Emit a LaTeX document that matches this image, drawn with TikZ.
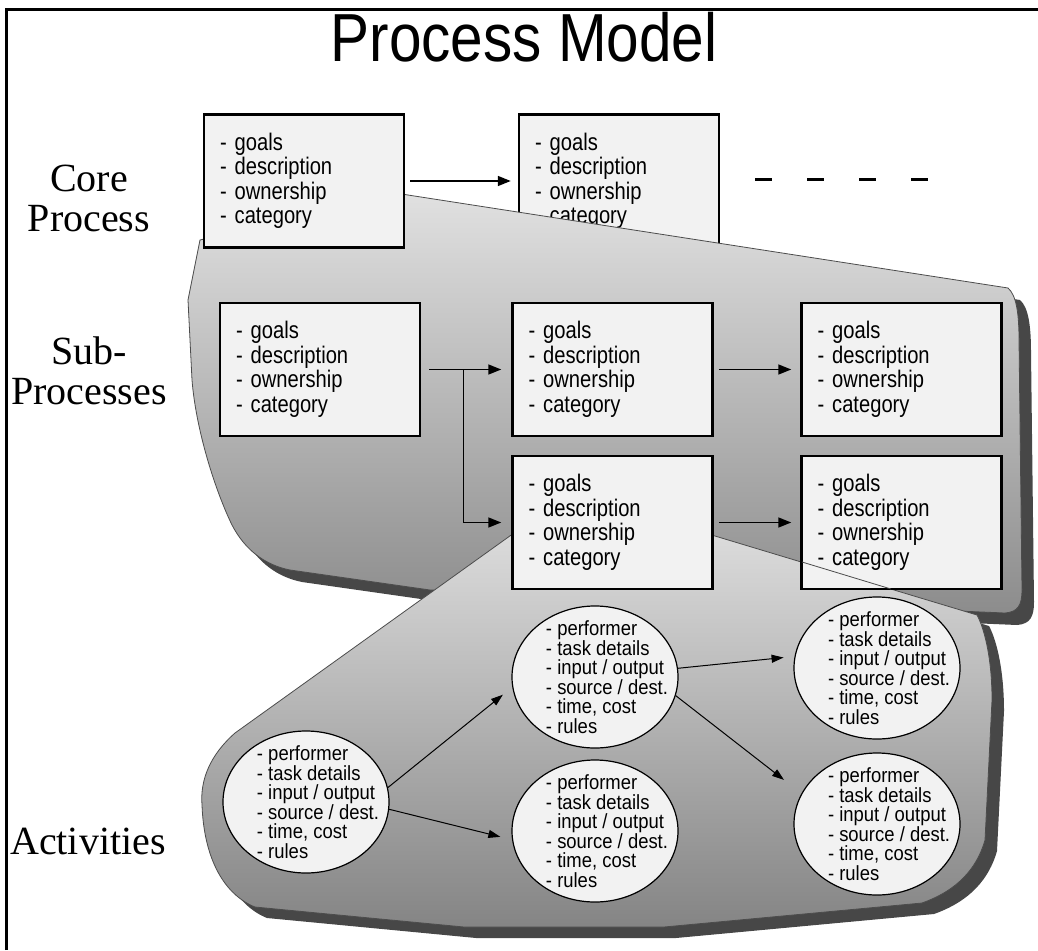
\documentclass[tikz,border=0pt]{standalone}
\usepackage{fontspec}
\setmainfont{Liberation Serif}
\newfontfamily\narrowsans[FakeStretch=0.84]{Liberation Sans}
\newfontfamily\actsans[FakeStretch=0.9]{Liberation Sans}
\newfontfamily\titlesans[FakeStretch=0.86]{Liberation Sans}
\usetikzlibrary{arrows.meta}
\usetikzlibrary{shapes.geometric,calc}

\definecolor{boxfill}{gray}{0.95}

\newcommand{\tightlines}{\lineskiplimit -20pt\relax}
\newcommand{\boxitems}{- goals\\- description\\- ownership\\- category}
\newcommand{\actitems}{- performer\\- task details\\- input / output\\- source / dest.\\- time, cost\\- rules}
% outlines of the two grey backdrops
\newcommand{\subregion}{(395,193) -- (1008,288) .. controls (1016,295) and (1019,312) .. (1019,340) -- (1022,590) .. controls (1022,605) and (1018,612) .. (1005,613) -- (700,600) -- (430,590) -- (290,570) .. controls (265,565) and (245,550) .. (232,525) .. controls (215,490) and (196,430) .. (192,380) -- (188,300) -- (200,240) -- cycle}
\newcommand{\actregion}{(514,533) -- (235,733) .. controls (210,755) and (200,780) .. (202,805) .. controls (204,860) and (225,895) .. (255,907) -- (464,927) -- (664,927) -- (922,903) .. controls (950,893) and (975,875) .. (985,840) -- (992,700) .. controls (992,660) and (985,630) .. (977,615) -- (705,533) -- cycle}

\begin{document}
\begin{tikzpicture}[x=1pt,y=-1pt,
  procbox/.style={draw,line width=2.5pt,fill=boxfill,minimum width=200pt,minimum height=133pt,text width=168pt,inner xsep=16pt,align=left,font=\narrowsans\fontsize{24}{24.5}\selectfont\tightlines},
  actnode/.style={ellipse,draw,line width=1.2pt,fill=boxfill,minimum width=166pt,minimum height=142pt,inner sep=0pt,
    label={[align=left,xshift=12pt,inner sep=0pt,font=\actsans\fontsize{20.5}{19.5}\selectfont\tightlines]center:\actitems}},
  sidelabel/.style={align=center,inner sep=0pt,font=\fontsize{40}{40}\selectfont},
  boxarrow/.style={line width=1.6pt,-{Triangle[length=13pt,width=10pt]}},
  actarrow/.style={line width=1pt,-{Triangle[length=12pt,width=8pt]}},
  backdrop/.style={draw=black!70,line width=0.8pt},
  dropshadow/.style={fill=black!72}]
\useasboundingbox (0,0) rectangle (1038,950);
% slide frame
\draw[line width=3pt] (6,950) -- (6,10) -- (1038,10);

\node (title) at (524,62) [anchor=base,font=\titlesans\fontsize{68}{70}\selectfont] {Process Model};
\node (core) at (89,165) [sidelabel,anchor=north] {Core\\Process};
\node (sub) at (89,337) [sidelabel,anchor=north] {Sub-\\Processes};
\node (act) at (88,854) [sidelabel,anchor=base] {Activities};

% core process
\node (c2) at (619,181) [procbox] {\boxitems};
\fill[dropshadow,shift={(12,12)}] \subregion;
\path[backdrop,top color=black!12,bottom color=black!45] \subregion;
\node (c1) at (304,181) [procbox] {\boxitems};
\draw[line width=3pt,dash pattern=on 17pt off 35pt] ([xshift=35pt,yshift=2pt]c2.east) -- ++(176,0);

% sub-processes
\fill[dropshadow,shift={(12,11)}] \actregion;
\path[backdrop,top color=black!14,bottom color=black!48] \actregion;
\node (s1) at (320,369.5) [procbox] {\boxitems};
\node (s2) at (612.5,369.5) [procbox] {\boxitems};
\node (s3) at (901.5,369.5) [procbox] {\boxitems};
\node (s4) at (612.5,522.5) [procbox] {\boxitems};
\node (s5) at (901.5,522.5) [procbox] {\boxitems};
\draw[black!70,line width=0.8pt] (802,562) -- (891,589);

\coordinate (split) at ($(s1.east)!0.47!(s2.west)$);
\path
(c1) edge[boxarrow,shorten <=5pt,shorten >=7pt] (c2)
(s1) edge[boxarrow,shorten <=8pt,shorten >=10pt] (s2)
(s2) edge[boxarrow,shorten <=5pt,shorten >=9pt] (s3)
(s4) edge[boxarrow,shorten <=5pt,shorten >=9pt] (s5);
\draw[boxarrow,shorten >=10pt] (split) |- (s4.west);

% activities
\node (a1) at (306,802) [actnode] {};
\node (a2) at (595,677) [actnode] {};
\node (a3) at (595,831) [actnode] {};
\node (a4) at (877,668) [actnode] {};
\node (a5) at (877,824) [actnode] {};
\path
(a1.10) edge[actarrow,shorten >=12pt] (a2.187)
(a1.355) edge[actarrow,shorten >=12pt] (a3.186)
(a2.6) edge[actarrow,shorten >=11pt] (a4.172)
(a2.347) edge[actarrow,shorten >=22pt] (a5.158);
\end{tikzpicture}
\end{document}
